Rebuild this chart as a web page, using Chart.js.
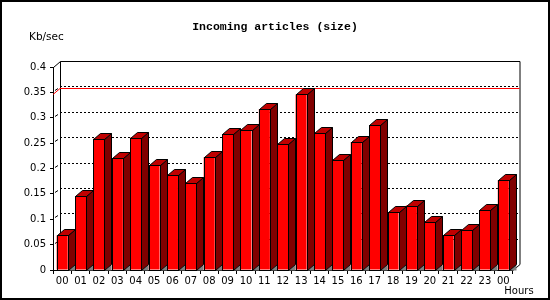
<!DOCTYPE html>
<html>
<head>
<meta charset="utf-8">
<script src="https://cdn.jsdelivr.net/npm/chart.js@4/dist/chart.umd.min.js"></script>
<style>
  html, body { margin: 0; padding: 0; background: #fff; }
  canvas { display: block; }
</style>
</head>
<body>
<canvas id="c" width="550" height="300"></canvas>
<script>
// ---- data ----
const hours = ['00','01','02','03','04','05','06','07','08','09','10','11','12',
               '13','14','15','16','17','18','19','20','21','22','23','00'];
const sizeKbps = [0.068, 0.145, 0.259, 0.220, 0.261, 0.206, 0.187, 0.171, 0.222,
                  0.267, 0.275, 0.317, 0.248, 0.346, 0.269, 0.216, 0.252, 0.285,
                  0.114, 0.127, 0.094, 0.068, 0.078, 0.118, 0.177];
const yTickValues = [0, 0.05, 0.1, 0.15, 0.2, 0.25, 0.3, 0.35, 0.4];
const chartTitle = 'Incoming articles (size)';
const yUnit = 'Kb/sec';
const xUnit = 'Hours';

const DX = 7, DY = 6;          // 3D depth offset
const FRONT = '#ff0000', TOPC = '#c00000', SIDE = '#800000', FLOOR = '#808080';

const threeD = {
  id: 'threeD',
  beforeDatasetsDraw(chart) {
    const { ctx, chartArea: a, scales: { y } } = chart;
    ctx.save();
    // dotted grid lines on the back wall + small connectors
    ctx.strokeStyle = '#000';
    ctx.lineWidth = 1;
    yTickValues.forEach(v => {
      if (v <= 0 || v >= 0.4) return;
      const py = Math.round(y.getPixelForValue(v)) + 0.5;
      ctx.setLineDash([2, 2]);
      ctx.beginPath();
      ctx.moveTo(a.left + DX, py - DY);
      ctx.lineTo(a.right + DX, py - DY);
      ctx.stroke();
      ctx.setLineDash([]);
      ctx.beginPath();
      ctx.moveTo(a.left + 2, py - 2);
      ctx.lineTo(a.left + 5, py - 4);
      ctx.stroke();
    });
    // back wall outline
    ctx.beginPath();
    ctx.moveTo(a.left + 0.5, a.top + 0.5);
    ctx.lineTo(a.left + DX + 0.5, a.top - DY + 0.5);
    ctx.lineTo(a.right + DX + 0.5, a.top - DY + 0.5);
    ctx.lineTo(a.right + DX + 0.5, a.bottom - DY + 0.5);
    ctx.lineTo(a.right + 0.5, a.bottom + 0.5);
    ctx.moveTo(a.left + DX + 0.5, a.top - DY + 0.5);
    ctx.lineTo(a.left + DX + 0.5, a.bottom - DY + 0.5);
    ctx.stroke();
    // red maximum line
    const maxV = Math.max(...sizeKbps);
    const my = Math.round(y.getPixelForValue(maxV)) + 0.5;
    ctx.strokeStyle = '#ff0000';
    ctx.beginPath();
    ctx.moveTo(a.left, my);
    ctx.lineTo(a.left + DX, my - DY);
    ctx.lineTo(a.right + DX, my - DY);
    ctx.stroke();
    ctx.restore();
  },
  afterDatasetsDraw(chart) {
    const { ctx } = chart;
    const meta = chart.getDatasetMeta(0);
    ctx.save();
    ctx.lineWidth = 1;
    ctx.strokeStyle = '#000';
    meta.data.forEach(bar => {
      const { x, y: top, base, width } = bar.getProps(['x', 'y', 'base', 'width'], true);
      const L = Math.round(x - width / 2) + 0.5;
      const R = Math.round(x + width / 2) + 0.5;
      const T = Math.round(top) + 0.5;
      const B = Math.round(base) + 0.5;
      // floor shadow triangle
      ctx.fillStyle = FLOOR;
      ctx.beginPath();
      ctx.moveTo(R, B); ctx.lineTo(R + DX, B); ctx.lineTo(R + DX, B - DY); ctx.closePath();
      ctx.fill();
      // side face
      ctx.fillStyle = SIDE;
      ctx.beginPath();
      ctx.moveTo(R, T); ctx.lineTo(R + DX, T - DY); ctx.lineTo(R + DX, B - DY); ctx.lineTo(R, B);
      ctx.closePath(); ctx.fill(); ctx.stroke();
      // top face
      ctx.fillStyle = TOPC;
      ctx.beginPath();
      ctx.moveTo(L, T); ctx.lineTo(L + DX, T - DY); ctx.lineTo(R + DX, T - DY); ctx.lineTo(R, T);
      ctx.closePath(); ctx.fill(); ctx.stroke();
      // front outline
      ctx.strokeRect(L, T, R - L, B - T);
    });
    ctx.restore();
  },
  afterDraw(chart) {
    const { ctx } = chart;
    ctx.save();
    ctx.fillStyle = '#000';
    ctx.textBaseline = 'middle';
    ctx.textAlign = 'center';
    ctx.font = 'bold 11.5px "Liberation Mono", "DejaVu Sans Mono", monospace';
    ctx.fillText(chartTitle, 275, 27);
    ctx.font = '10.5px "DejaVu Sans", sans-serif';
    ctx.textAlign = 'left';
    ctx.fillText(yUnit, 29, 37);
    ctx.font = '10px "DejaVu Sans", sans-serif';
    ctx.textAlign = 'center';
    ctx.fillText(xUnit, 519, 291.5);
    // outer frame
    ctx.strokeStyle = '#000';
    ctx.lineWidth = 2;
    ctx.strokeRect(1, 1, 548, 298);
    ctx.restore();
  }
};

new Chart(document.getElementById('c'), {
  type: 'bar',
  data: {
    labels: hours,
    datasets: [{
      data: sizeKbps,
      backgroundColor: FRONT,
      borderWidth: 0,
      barPercentage: 0.6,
      categoryPercentage: 1.0
    }]
  },
  options: {
    responsive: false,
    devicePixelRatio: 1,
    animation: false,
    layout: { padding: { left: 0, top: 67, right: 37.5, bottom: 0 } },
    plugins: { legend: { display: false }, tooltip: { enabled: false }, title: { display: false } },
    scales: {
      x: {
        offset: true,
        grid: { display: true, drawOnChartArea: false, drawTicks: true, tickLength: 4, color: '#000', offset: true },
        border: { display: true, color: '#000' },
        ticks: { color: '#000', font: { family: '"DejaVu Sans", sans-serif', size: 10 }, padding: 1, maxRotation: 0, autoSkip: false },
        afterFit: s => { s.height = 30; }
      },
      y: {
        min: 0, max: 0.4,
        afterBuildTicks: s => { s.ticks = yTickValues.map(v => ({ value: v })); },
        grid: { display: true, drawOnChartArea: false, drawTicks: true, tickLength: 3, color: '#000' },
        border: { display: true, color: '#000' },
        ticks: {
          color: '#000', font: { family: '"DejaVu Sans", sans-serif', size: 10 }, padding: 4,
          callback: v => String(Number(v.toFixed(2)))
        },
        afterFit: s => { s.width = 53; }
      }
    }
  },
  plugins: [threeD]
});
</script>
</body>
</html>
